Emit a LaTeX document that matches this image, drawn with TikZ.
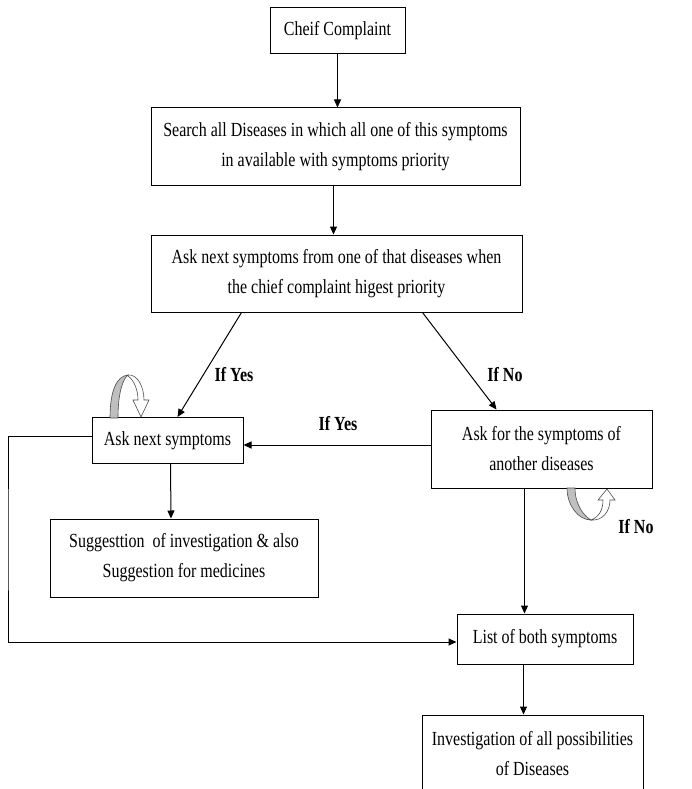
\documentclass[tikz,border=0pt]{standalone}
\usepackage{fontspec}
\setmainfont[FakeStretch=0.8]{Liberation Serif}
\usetikzlibrary{arrows.meta}
\usetikzlibrary{calc}
\newcommand\boxfont{\fontsize{20}{30}\selectfont}

\begin{document}
\begin{tikzpicture}[
    x=1pt, y=-1pt,
    arrowtip/.style={
      line width=1pt, -{Triangle[length=8pt,width=7pt]}
    },
    stepbox/.style={
      draw, line width=1pt, align=center, font=\boxfont,
      inner sep=0pt
    },
    cond/.style={
      font=\boxfont\bfseries
    },
    loopback/.style={
      draw=black!70, fill=black!25, line width=0.6pt
    },
    loopfront/.style={
      draw=black!70, fill=white, line width=0.6pt
    }
  ]
    \clip (0,0) rectangle (691,789);
    \fill[white] (0,0) rectangle (691,789);

    % boxes
    \node[stepbox, minimum width=135pt, minimum height=46pt] (chief)   at (337.5,31)  {Cheif Complaint};
    \node[stepbox, minimum width=369pt, minimum height=77pt] (search)  at (335.5,146.5)
      {Search all Diseases in which all one of this symptoms\\ in available with symptoms priority};
    \node[stepbox, minimum width=371pt, minimum height=77pt] (ask)     at (336.5,273.5)
      {Ask next symptoms from one of that diseases when\\ the chief complaint higest priority};
    \node[stepbox, minimum width=151pt, minimum height=46pt] (asknext) at (167.5,440.5) {Ask next symptoms};
    \node[stepbox, minimum width=221pt, minimum height=78pt] (askfor)  at (541.5,449)
      {Ask for the symptoms of\\ another diseases};
    \node[stepbox, minimum width=268pt, minimum height=78pt] (suggest) at (184,558)
      {Suggesttion\ \ of investigation \& also\\ Suggestion for medicines};
    \node[stepbox, minimum width=176pt, minimum height=50pt] (list)    at (545,639)   {List of both symptoms};
    \node[stepbox, minimum width=221pt, minimum height=78pt] (invest)  at (532.5,754)
      {Investigation of all possibilities\\ of Diseases};

    % labels
    \node[cond] (yesA) at (234,375) {If Yes};
    \node[cond] (noA)  at (505,375) {If No};
    \node[cond] (yesB) at (338,424) {If Yes};
    \node[cond] (noB)  at (636,527) {If No};

    % arrows
    \draw[arrowtip] (chief.south)  -- (chief.south |- search.north);
    \draw[arrowtip] ($(search.south)+(-2,0)$) -- ($(ask.north)+(-3,0)$);
    \draw[arrowtip] ($(ask.south west)+(91,0)$)  -- ($(asknext.north)+(10,0)$);
    \draw[arrowtip] ($(ask.south west)+(272,0)$) -- ($(askfor.north west)+(66,0)$);
    \draw[arrowtip] ($(askfor.west)+(0,-4)$) -- ($(asknext.east)+(0,4.5)$);
    \draw[arrowtip] ($(asknext.south)+(3,0)$) -- ($(suggest.north)+(-13,0)$);

    \coordinate (leftrail) at (8,540);
    \draw[arrowtip] ($(asknext.west)+(0,-4)$) -| (leftrail) |- ($(list.west)+(0,3)$);
    \draw[arrowtip] ($(askfor.south west)+(94,0)$) -- ($(list.north west)+(68,0)$);
    \draw[arrowtip] ($(list.south west)+(67,0)$) -- ($(invest.north west)+(102,0)$);

    % self loops
    \draw[loopback]  (110,418) .. controls (110,390) and (117,376) .. (128,375)
                     .. controls (123,379) and (118,392) .. (118,418) -- cycle;
    \draw[loopfront] (128,376) .. controls (134,380) and (138,390) .. (138,400)
                     -- (133,400) -- (141,417) -- (149,400) -- (144,400)
                     .. controls (144,386) and (137,374) .. (128,375) -- cycle;

    \draw[loopback]  (567,488) .. controls (567,505) and (578,520) .. (591,520)
                     .. controls (584,516) and (575,505) .. (575,488) -- cycle;
    \draw[loopfront] (591,520) .. controls (599,517) and (603,510) .. (603,500)
                     -- (598,500) -- (607,489) -- (615,500) -- (610,500)
                     .. controls (610,512) and (602,521) .. (591,520) -- cycle;
  \end{tikzpicture}
\end{document}
